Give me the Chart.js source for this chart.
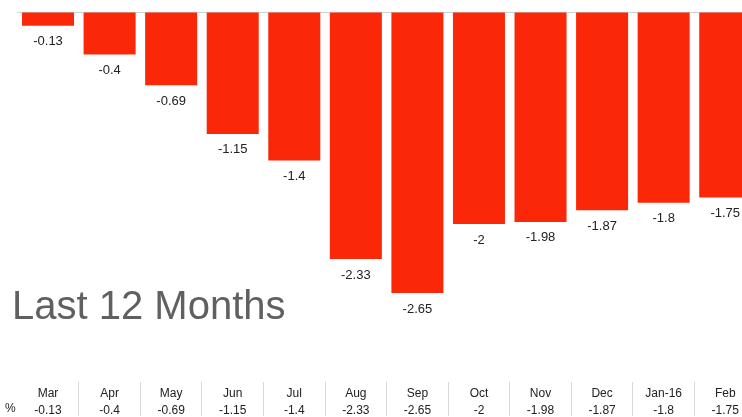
<!DOCTYPE html>
<html>
<head>
<meta charset="utf-8">
<script src="https://cdn.jsdelivr.net/npm/chart.js@4/dist/chart.umd.min.js"></script>
<style>
  html, body { margin: 0; padding: 0; background: #fff; }
  #wrap { position: relative; width: 742px; height: 417px; overflow: hidden; }
  #c { position: absolute; left: 0; top: 0; }
  #title { position: absolute; left: 12px; top: 281px; font: 40px "Liberation Sans", Arial, sans-serif; color: #606060; white-space: nowrap; line-height: 48px; }
</style>
</head>
<body>
<div id="wrap">
  <canvas id="c" width="756" height="417"></canvas>
  <div id="title">Last 12 Months</div>
</div>
<script>
const categories = ["Mar", "Apr", "May", "Jun", "Jul", "Aug", "Sep", "Oct", "Nov", "Dec", "Jan-16", "Feb"];
const values = [-0.13, -0.4, -0.69, -1.15, -1.4, -2.33, -2.65, -2, -1.98, -1.87, -1.8, -1.75];
const rowLabel = "%";

const FONT = '"Liberation Sans", Arial, sans-serif';

const barLabels = {
  id: 'barLabels',
  afterDatasetsDraw(chart) {
    const ctx = chart.ctx;
    const meta = chart.getDatasetMeta(0);
    ctx.save();
    ctx.font = '13px ' + FONT;
    ctx.fillStyle = '#222';
    ctx.textAlign = 'center';
    ctx.textBaseline = 'middle';
    meta.data.forEach((bar, i) => {
      ctx.fillText(String(values[i]), bar.x, bar.y + 16);
    });
    ctx.restore();
  }
};

const rowLabelPlugin = {
  id: 'rowLabel',
  afterDraw(chart) {
    const ctx = chart.ctx;
    ctx.save();
    ctx.font = '12px ' + FONT;
    ctx.fillStyle = '#222';
    ctx.textAlign = 'left';
    ctx.textBaseline = 'middle';
    ctx.fillText(rowLabel, 5, 409);
    ctx.restore();
  }
};

new Chart(document.getElementById('c'), {
  type: 'bar',
  data: {
    labels: categories.map((m, i) => [m, String(values[i])]),
    datasets: [{
      data: values,
      backgroundColor: 'rgb(250,40,8)',
      borderWidth: 0,
      categoryPercentage: 1,
      barPercentage: 0.845
    }]
  },
  options: {
    responsive: false,
    animation: false,
    layout: { padding: { left: 17.25, right: 0, top: 12, bottom: 0 } },
    plugins: { legend: { display: false }, tooltip: { enabled: false } },
    scales: {
      x: {
        position: 'bottom',
        border: { display: false },
        grid: {
          offset: true, drawOnChartArea: false, drawTicks: true, tickLength: 34,
          color: (c) => c.index === 0 ? 'rgba(0,0,0,0)' : '#d8d8d8'
        },
        ticks: {
          padding: -31,
          maxRotation: 0,
          autoSkip: false,
          color: '#222',
          font: { family: FONT, size: 12, lineHeight: 1.4 }
        },
        afterFit(scale) { scale.height = 35; }
      },
      y: {
        min: -3.49,
        max: 0,
        display: true,
        border: { display: false },
        ticks: { display: false },
        grid: {
          drawTicks: false,
          color: (c) => (c.tick && c.tick.value === 0) ? '#d0d0d0' : 'rgba(0,0,0,0)'
        },
        afterFit(scale) { scale.width = 0; }
      }
    }
  },
  plugins: [barLabels, rowLabelPlugin]
});
</script>
</body>
</html>
